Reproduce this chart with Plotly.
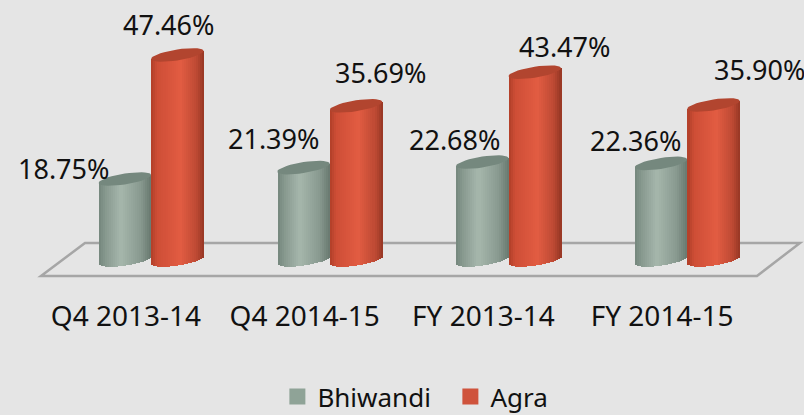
import math
import plotly.graph_objects as go

categories = ["Q4 2013-14", "Q4 2014-15", "FY 2013-14", "FY 2014-15"]
bhiwandi = [18.75, 21.39, 22.68, 22.36]
agra = [47.46, 35.69, 43.47, 35.90]

W, H = 804, 415
X0, DX = 151.0, 178.7       # px of first group's centre, px per category
Y0, K = 260.0, 4.32         # px of zero, px per percent
AXIS_PX = 297.0
BAR_PX = 52.5
FONT = "Noto Sans"
TEXT = "#111111"

bar_w = BAR_PX / DX
ry = 5.5 / K
tilt = 4.0 / K


def lerp_stops(stops, t):
    for (a, ca), (b, cb) in zip(stops, stops[1:]):
        if t <= b:
            f = (t - a) / (b - a)
            return "rgb(%d,%d,%d)" % tuple(round(p + (q - p) * f) for p, q in zip(ca, cb))
    return "rgb(%d,%d,%d)" % stops[-1][1]


GREY = [(0, (116, 134, 124)), (0.12, (134, 152, 142)), (0.42, (166, 183, 172)),
        (0.8, (136, 153, 143)), (1, (104, 120, 111))]
RED = [(0, (176, 62, 40)), (0.12, (206, 78, 54)), (0.55, (226, 92, 66)),
       (0.85, (190, 74, 52)), (1, (150, 54, 36))]

fig = go.Figure()
N = 26


def cylinder(values, shift, stops, top_color, name, swatch):
    xs = [i + shift for i in range(len(values))]
    for k in range(N):
        t = (k + 0.5) / N
        u = 2 * t - 1
        low = tilt * u - ry * math.sqrt(1 - u * u)
        high = [v + tilt * u for v in values]
        fig.add_trace(go.Bar(
            x=xs, y=[h - low for h in high], base=[low] * len(values),
            width=bar_w / N * 1.25, offset=(u / 2 - 0.5 / N * 0.625) * bar_w,
            marker=dict(color=lerp_stops(stops, t), line_width=0),
            showlegend=False, hoverinfo="skip"))
    ex, ey = [], []
    for x, v in zip(xs, values):
        for d in range(0, 361, 10):
            c, s = math.cos(math.radians(d)), math.sin(math.radians(d))
            ex.append(x + bar_w / 2 * c)
            ey.append(v + tilt * c + ry * s)
        ex.append(None)
        ey.append(None)
    fig.add_trace(go.Scatter(x=ex, y=ey, mode="lines", fill="toself", fillcolor=top_color,
                             line=dict(width=0, color=top_color),
                             showlegend=False, hoverinfo="skip"))
    fig.add_trace(go.Scatter(x=[None], y=[None], mode="markers", name=name,
                             marker=dict(symbol="square", size=18, color=swatch)))


cylinder(bhiwandi, -bar_w / 2, GREY, "#75887e", "Bhiwandi", "#8fa397")
cylinder(agra, bar_w / 2, RED, "#b2452f", "Agra", "#cf533c")

# label placement relative to the top of each bar, in px
bhiwandi_dx, bhiwandi_dy = [-61, -30, -28, -25], [11, 29, 23, 23]
agra_dx, agra_dy = [-9, 25, 30, 46], [30, 33, 26, 35]
for vals, shift, dxs, dys in ((bhiwandi, -bar_w / 2, bhiwandi_dx, bhiwandi_dy),
                              (agra, bar_w / 2, agra_dx, agra_dy)):
    for i, v in enumerate(vals):
        fig.add_annotation(x=i + shift, y=v, text=f"{v:.2f}%", showarrow=False,
                           xshift=dxs[i], yshift=dys[i],
                           font=dict(family=FONT, size=27, color=TEXT))

# floor of the chart
pts = [(41, 276), (85, 243), (800, 243), (757, 276)]
path = "M " + " L ".join(f"{x / W:.4f},{1 - y / H:.4f}" for x, y in pts) + " Z"
fig.add_shape(type="path", xref="paper", yref="paper", path=path, layer="below",
              line=dict(color="#a6a6a6", width=2.5))

fig.update_layout(
    width=W, height=H, autosize=False,
    margin=dict(l=0, r=0, t=0, b=0, autoexpand=False),
    paper_bgcolor="#e5e5e5", plot_bgcolor="rgba(0,0,0,0)",
    barmode="overlay", bargap=0,
    font=dict(family=FONT, size=27, color=TEXT),
    legend=dict(orientation="h", x=0.345, xanchor="left", y=-0.012, yanchor="bottom",
                bgcolor="rgba(0,0,0,0)", font=dict(size=26), itemwidth=30,
                entrywidthmode="pixels", entrywidth=128),
    xaxis=dict(range=[-X0 / DX, (W - X0) / DX], showgrid=False, zeroline=False, showline=False,
               tickmode="array", tickvals=[i - 0.14 for i in range(4)], ticktext=categories,
               ticks="", tickfont=dict(size=28, family=FONT, color=TEXT)),
    yaxis=dict(range=[(Y0 - AXIS_PX) / K, Y0 / K], domain=[1 - AXIS_PX / H, 1],
               visible=False),
)
fig.write_html("out.html", config={"displayModeBar": False},
               post_script="document.body.style.margin='0';document.body.style.overflow='hidden';")
